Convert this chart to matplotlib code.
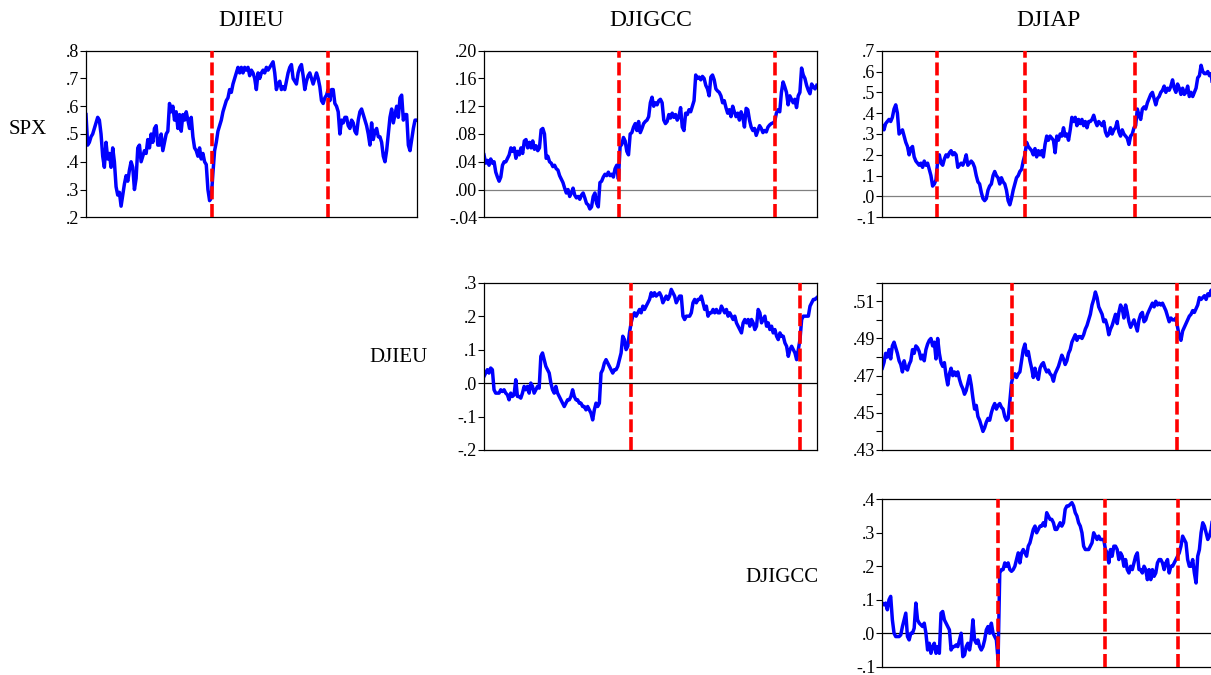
import numpy as np
import matplotlib
matplotlib.use("Agg")
import matplotlib.pyplot as plt
from matplotlib.ticker import FixedLocator, FuncFormatter

plt.rcParams['font.family'] = ['Liberation Serif', 'DejaVu Serif']

col_names = ['DJIEU', 'DJIGCC', 'DJIAP']
row_names = ['SPX', 'DJIEU', 'DJIGCC']

# rolling correlations, one reading every 5 trading days
spx_djieu = [0.57, 0.46, 0.47, 0.49, 0.50, 0.52, 0.54, 0.56, 0.55, 0.50, 0.42, 0.38, 0.47, 0.41, 0.43, 0.38,
             0.45, 0.40, 0.31, 0.28, 0.29, 0.24, 0.28, 0.32, 0.35, 0.33, 0.37, 0.40, 0.38, 0.30, 0.34, 0.45,
             0.46, 0.40, 0.42, 0.44, 0.43, 0.48, 0.45, 0.50, 0.47, 0.52, 0.53, 0.46, 0.46, 0.50, 0.44, 0.47,
             0.50, 0.51, 0.61, 0.58, 0.60, 0.55, 0.58, 0.52, 0.57, 0.51, 0.57, 0.55, 0.58, 0.55, 0.52, 0.56,
             0.49, 0.45, 0.44, 0.42, 0.45, 0.41, 0.43, 0.40, 0.39, 0.30, 0.26, 0.27, 0.36, 0.44, 0.47, 0.51,
             0.53, 0.55, 0.58, 0.60, 0.62, 0.63, 0.66, 0.65, 0.68, 0.70, 0.72, 0.74, 0.72, 0.74, 0.72, 0.74,
             0.73, 0.74, 0.71, 0.73, 0.72, 0.70, 0.66, 0.72, 0.70, 0.72, 0.73, 0.72, 0.74, 0.73, 0.74, 0.75,
             0.76, 0.72, 0.66, 0.68, 0.69, 0.66, 0.67, 0.66, 0.69, 0.72, 0.74, 0.75, 0.70, 0.69, 0.68, 0.72,
             0.74, 0.75, 0.71, 0.66, 0.69, 0.71, 0.72, 0.70, 0.68, 0.70, 0.72, 0.70, 0.67, 0.62, 0.61, 0.63,
             0.64, 0.66, 0.62, 0.66, 0.66, 0.61, 0.60, 0.58, 0.50, 0.55, 0.54, 0.56, 0.56, 0.53, 0.52, 0.55,
             0.54, 0.51, 0.50, 0.55, 0.58, 0.59, 0.57, 0.55, 0.53, 0.50, 0.46, 0.54, 0.48, 0.51, 0.52, 0.49,
             0.49, 0.47, 0.42, 0.40, 0.44, 0.50, 0.56, 0.59, 0.54, 0.57, 0.60, 0.56, 0.63, 0.64, 0.55, 0.57,
             0.57, 0.46, 0.44, 0.48, 0.52, 0.55, 0.55]

spx_djigcc = [0.050, 0.038, 0.042, 0.035, 0.044, 0.038, 0.040, 0.025, 0.018, 0.012, 0.018, 0.035, 0.040,
              0.040, 0.045, 0.050, 0.060, 0.055, 0.060, 0.045, 0.055, 0.050, 0.060, 0.052, 0.070, 0.072,
              0.060, 0.068, 0.060, 0.070, 0.058, 0.063, 0.056, 0.060, 0.086, 0.088, 0.080, 0.045, 0.048,
              0.040, 0.038, 0.033, 0.035, 0.030, 0.028, 0.020, 0.015, 0.010, 0.002, -0.005, 0.000, -0.010,
              -0.005, 0.002, -0.008, -0.012, -0.010, -0.014, -0.008, -0.005, -0.012, -0.020, -0.022, -0.028,
              -0.025, -0.010, -0.005, -0.020, -0.025, 0.010, 0.012, 0.018, 0.022, 0.020, 0.025, 0.020, 0.022,
              0.018, 0.030, 0.035, 0.015, 0.062, 0.065, 0.075, 0.070, 0.055, 0.050, 0.080, 0.082, 0.090,
              0.095, 0.085, 0.098, 0.082, 0.088, 0.095, 0.098, 0.100, 0.105, 0.125, 0.133, 0.120, 0.125,
              0.122, 0.128, 0.130, 0.125, 0.100, 0.095, 0.098, 0.108, 0.103, 0.110, 0.104, 0.108, 0.100,
              0.105, 0.118, 0.090, 0.085, 0.110, 0.108, 0.115, 0.112, 0.120, 0.128, 0.165, 0.160, 0.162,
              0.158, 0.163, 0.160, 0.150, 0.145, 0.135, 0.162, 0.165, 0.158, 0.145, 0.142, 0.140, 0.135,
              0.125, 0.128, 0.118, 0.110, 0.115, 0.105, 0.120, 0.112, 0.105, 0.110, 0.100, 0.112, 0.105,
              0.090, 0.117, 0.115, 0.100, 0.090, 0.085, 0.088, 0.078, 0.085, 0.092, 0.088, 0.082, 0.085,
              0.083, 0.090, 0.093, 0.095, 0.096, 0.098, 0.110, 0.115, 0.112, 0.140, 0.155, 0.148, 0.140,
              0.122, 0.135, 0.130, 0.125, 0.130, 0.118, 0.135, 0.140, 0.175, 0.165, 0.160, 0.150, 0.143,
              0.138, 0.152, 0.148, 0.145, 0.150]

spx_djiap = [0.34, 0.32, 0.35, 0.36, 0.37, 0.36, 0.38, 0.42, 0.44, 0.40, 0.30, 0.31, 0.32, 0.29, 0.26, 0.24,
             0.20, 0.23, 0.24, 0.19, 0.17, 0.16, 0.15, 0.16, 0.14, 0.17, 0.15, 0.16, 0.13, 0.10, 0.05, 0.06,
             0.08, 0.17, 0.20, 0.16, 0.15, 0.18, 0.20, 0.19, 0.21, 0.22, 0.20, 0.21, 0.20, 0.14, 0.15, 0.16,
             0.15, 0.17, 0.20, 0.15, 0.16, 0.17, 0.16, 0.14, 0.10, 0.07, 0.06, 0.02, -0.01, -0.02, -0.01,
             0.03, 0.05, 0.06, 0.10, 0.12, 0.10, 0.09, 0.06, 0.09, 0.07, 0.06, 0.03, -0.02, -0.04, -0.01,
             0.03, 0.06, 0.09, 0.10, 0.12, 0.13, 0.17, 0.20, 0.26, 0.24, 0.23, 0.22, 0.20, 0.23, 0.19, 0.22,
             0.20, 0.22, 0.19, 0.25, 0.29, 0.27, 0.29, 0.28, 0.27, 0.21, 0.29, 0.27, 0.30, 0.29, 0.33, 0.29,
             0.30, 0.27, 0.32, 0.38, 0.36, 0.38, 0.34, 0.37, 0.35, 0.37, 0.34, 0.36, 0.33, 0.36, 0.36, 0.37,
             0.39, 0.36, 0.34, 0.36, 0.35, 0.34, 0.36, 0.31, 0.29, 0.30, 0.33, 0.30, 0.32, 0.33, 0.36, 0.31,
             0.29, 0.32, 0.30, 0.29, 0.28, 0.25, 0.29, 0.30, 0.33, 0.34, 0.42, 0.39, 0.37, 0.42, 0.43, 0.42,
             0.45, 0.47, 0.49, 0.50, 0.47, 0.44, 0.47, 0.48, 0.50, 0.51, 0.53, 0.50, 0.52, 0.51, 0.53, 0.56,
             0.52, 0.50, 0.54, 0.52, 0.49, 0.52, 0.49, 0.50, 0.53, 0.48, 0.50, 0.48, 0.50, 0.52, 0.57, 0.58,
             0.63, 0.60, 0.59, 0.59, 0.60, 0.58, 0.59, 0.52, 0.50]

djieu_djigcc = [0.02, 0.03, 0.04, 0.03, 0.045, 0.04, -0.02, -0.03, -0.03, -0.03, -0.02, -0.025, -0.02, -0.03,
                -0.035, -0.05, -0.03, -0.04, -0.035, 0.01, -0.04, -0.04, -0.045, -0.03, -0.01, -0.02, -0.01,
                -0.03, 0.00, -0.01, -0.03, -0.02, -0.01, -0.015, 0.08, 0.09, 0.07, 0.05, 0.04, 0.03, 0.00,
                -0.02, -0.03, -0.01, -0.03, -0.04, -0.05, -0.06, -0.07, -0.06, -0.05, -0.05, -0.04, -0.02,
                -0.04, -0.05, -0.05, -0.06, -0.06, -0.07, -0.07, -0.08, -0.07, -0.08, -0.09, -0.11, -0.08,
                -0.06, -0.07, -0.06, 0.03, 0.04, 0.06, 0.07, 0.06, 0.05, 0.04, 0.03, 0.04, 0.04, 0.05, 0.07,
                0.09, 0.14, 0.13, 0.10, 0.11, 0.15, 0.18, 0.20, 0.21, 0.20, 0.21, 0.22, 0.21, 0.23, 0.22,
                0.23, 0.24, 0.25, 0.27, 0.26, 0.27, 0.26, 0.265, 0.27, 0.26, 0.24, 0.25, 0.26, 0.25, 0.26,
                0.28, 0.27, 0.26, 0.24, 0.25, 0.26, 0.26, 0.20, 0.19, 0.20, 0.20, 0.20, 0.21, 0.24, 0.25,
                0.24, 0.25, 0.25, 0.26, 0.24, 0.22, 0.23, 0.20, 0.21, 0.21, 0.22, 0.21, 0.22, 0.21, 0.21,
                0.23, 0.22, 0.21, 0.22, 0.20, 0.21, 0.20, 0.19, 0.20, 0.18, 0.17, 0.16, 0.15, 0.18, 0.19,
                0.18, 0.19, 0.17, 0.19, 0.18, 0.16, 0.17, 0.22, 0.21, 0.18, 0.19, 0.20, 0.17, 0.18, 0.16,
                0.17, 0.15, 0.16, 0.14, 0.13, 0.15, 0.14, 0.14, 0.12, 0.11, 0.08, 0.10, 0.11, 0.10, 0.09,
                0.07, 0.10, 0.13, 0.19, 0.20, 0.20, 0.20, 0.20, 0.23, 0.24, 0.25, 0.25, 0.255]

djieu_djiap = [0.474, 0.477, 0.482, 0.480, 0.484, 0.479, 0.486, 0.488, 0.485, 0.482, 0.478, 0.476, 0.472,
               0.478, 0.474, 0.473, 0.476, 0.478, 0.484, 0.482, 0.486, 0.485, 0.483, 0.479, 0.481, 0.478,
               0.484, 0.487, 0.489, 0.490, 0.486, 0.488, 0.479, 0.490, 0.482, 0.477, 0.475, 0.477, 0.470,
               0.465, 0.471, 0.474, 0.470, 0.472, 0.470, 0.472, 0.468, 0.465, 0.463, 0.460, 0.462, 0.466,
               0.470, 0.465, 0.458, 0.452, 0.454, 0.448, 0.446, 0.443, 0.440, 0.442, 0.445, 0.447, 0.446,
               0.450, 0.453, 0.455, 0.452, 0.454, 0.455, 0.453, 0.452, 0.448, 0.446, 0.447, 0.456, 0.466,
               0.470, 0.471, 0.469, 0.471, 0.472, 0.478, 0.484, 0.487, 0.481, 0.483, 0.478, 0.474, 0.469,
               0.474, 0.470, 0.468, 0.474, 0.476, 0.477, 0.474, 0.472, 0.473, 0.471, 0.470, 0.467, 0.471,
               0.473, 0.475, 0.478, 0.481, 0.479, 0.476, 0.478, 0.482, 0.484, 0.488, 0.490, 0.492, 0.489,
               0.491, 0.491, 0.490, 0.492, 0.495, 0.497, 0.500, 0.503, 0.508, 0.511, 0.515, 0.512, 0.507,
               0.505, 0.503, 0.499, 0.500, 0.497, 0.492, 0.495, 0.497, 0.500, 0.503, 0.498, 0.504, 0.508,
               0.506, 0.501, 0.508, 0.504, 0.499, 0.496, 0.498, 0.500, 0.497, 0.494, 0.500, 0.503, 0.504,
               0.499, 0.500, 0.503, 0.505, 0.507, 0.509, 0.507, 0.510, 0.508, 0.509, 0.508, 0.509, 0.507,
               0.505, 0.502, 0.499, 0.501, 0.500, 0.500, 0.501, 0.496, 0.491, 0.489, 0.494, 0.496, 0.498,
               0.500, 0.502, 0.503, 0.505, 0.504, 0.506, 0.508, 0.512, 0.511, 0.512, 0.513, 0.511, 0.514,
               0.513, 0.516, 0.512, 0.514]

djigcc_djiap = [0.09, 0.085, 0.09, 0.07, 0.10, 0.11, 0.04, 0.00, -0.01, -0.01, -0.01, -0.005, 0.02, 0.04,
                0.06, -0.01, -0.02, 0.00, 0.00, 0.015, 0.09, 0.04, 0.03, 0.025, 0.02, 0.03, 0.00, -0.05,
                -0.03, -0.06, -0.04, -0.03, -0.06, -0.04, -0.06, 0.06, 0.065, 0.04, 0.03, 0.02, 0.01, -0.05,
                -0.04, -0.04, -0.035, -0.04, -0.02, 0.00, -0.07, -0.065, -0.04, -0.03, -0.05, -0.02, 0.04,
                -0.02, -0.03, -0.02, -0.04, -0.05, -0.04, -0.02, 0.01, 0.02, 0.00, 0.03, 0.00, -0.01, -0.02,
                -0.08, 0.18, 0.19, 0.19, 0.21, 0.20, 0.21, 0.19, 0.185, 0.19, 0.20, 0.22, 0.24, 0.21, 0.24,
                0.25, 0.24, 0.23, 0.26, 0.27, 0.29, 0.31, 0.32, 0.30, 0.31, 0.32, 0.32, 0.33, 0.32, 0.36,
                0.35, 0.34, 0.34, 0.33, 0.31, 0.31, 0.32, 0.33, 0.32, 0.33, 0.37, 0.38, 0.38, 0.385, 0.39,
                0.38, 0.36, 0.35, 0.33, 0.32, 0.30, 0.26, 0.25, 0.25, 0.25, 0.26, 0.27, 0.30, 0.29, 0.28,
                0.29, 0.28, 0.28, 0.28, 0.25, 0.24, 0.21, 0.25, 0.23, 0.26, 0.26, 0.25, 0.22, 0.24, 0.23,
                0.20, 0.22, 0.19, 0.18, 0.20, 0.19, 0.21, 0.23, 0.24, 0.19, 0.19, 0.18, 0.20, 0.19, 0.16,
                0.19, 0.16, 0.19, 0.17, 0.18, 0.21, 0.22, 0.22, 0.21, 0.19, 0.21, 0.22, 0.18, 0.20, 0.20,
                0.21, 0.22, 0.23, 0.24, 0.26, 0.29, 0.28, 0.27, 0.22, 0.20, 0.20, 0.22, 0.18, 0.15, 0.23,
                0.25, 0.30, 0.33, 0.32, 0.30, 0.28, 0.29, 0.31, 0.35, 0.34]

# (row, col): series, break dates (trading day), y limits, y ticks, decimals, zero line colour
panels = {
    (0, 0): (spx_djieu, [378, 728], (0.2, 0.8), np.arange(0.2, 0.81, 0.1), 1, None),
    (0, 1): (spx_djigcc, [405, 871], (-0.04, 0.20), np.arange(-0.04, 0.201, 0.04), 2, '#808080'),
    (0, 2): (spx_djiap, [164, 426, 757], (-0.1, 0.7), np.arange(-0.1, 0.71, 0.1), 1, '#808080'),
    (1, 1): (djieu_djigcc, [439, 945], (-0.2, 0.3), np.arange(-0.2, 0.31, 0.1), 1, 'black'),
    (1, 2): (djieu_djiap, [388, 884], (0.43, 0.52), np.arange(0.43, 0.515, 0.02), 2, None),
    (2, 2): (djigcc_djiap, [346, 666, 887], (-0.1, 0.4), np.arange(-0.1, 0.41, 0.1), 1, 'black'),
}
n_days = 995

W, H = 1211, 675
col_px = [(86, 416.7), (484, 816.7), (882.3, 1214.5)]
row_px = [(50.7, 217.3), (282.7, 450), (499.3, 666.7)]

fig = plt.figure(figsize=(W / 100, H / 100), dpi=100)


def short(v, dec):
    s = f"{v:.{dec}f}"
    return s.replace('0.', '.', 1)


for (r, c), (vals, breaks, ylim, yt, dec, zc) in panels.items():
    x0, x1 = col_px[c]
    y0, y1 = row_px[r]
    ax = fig.add_axes([x0 / W, 1 - y1 / H, (x1 - x0) / W, (y1 - y0) / H])
    x = np.linspace(0, n_days, len(vals))
    if zc is not None:
        ax.axhline(0, color=zc, lw=0.9, zorder=1)
    ax.plot(x, vals, color='#0000ff', lw=2.5, zorder=2, solid_joinstyle='round')
    for b in breaks:
        ax.axvline(b, color='#ff0000', lw=2.6, dashes=(3.6, 1.3), zorder=3)
    ax.set_xlim(0, n_days)
    ax.set_ylim(*ylim)
    ax.set_xticks([])
    ax.yaxis.set_major_locator(FixedLocator(yt))
    ax.yaxis.set_major_formatter(FuncFormatter(lambda v, p, d=dec: short(v, d)))
    if (r, c) == (1, 2):
        ax.yaxis.set_minor_locator(FixedLocator(np.arange(0.44, 0.525, 0.02)))
    ax.tick_params(axis='y', which='both', direction='out', length=4, width=0.8,
                   labelsize=13, pad=1)
    for s in ax.spines.values():
        s.set_linewidth(0.9)

for c, name in enumerate(col_names):
    xc = (col_px[c][0] + col_px[c][1]) / 2
    fig.text(xc / W, 1 - 20 / H, name, ha='center', va='center', fontsize=17)

row_label_px = [(27.5, 130), (399, 358), (782, 578)]
for (lx, ly), name in zip(row_label_px, row_names):
    fig.text(lx / W, 1 - ly / H, name, ha='center', va='center', fontsize=15)

fig.savefig('out.png', dpi=100)
